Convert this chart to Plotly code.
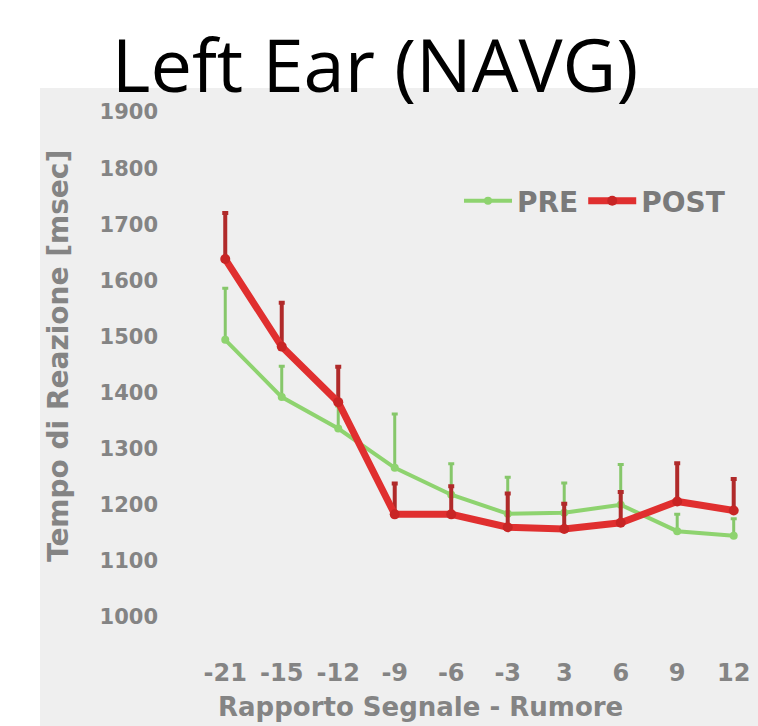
import plotly.graph_objects as go

categories = ["-21", "-15", "-12", "-9", "-6", "-3", "3", "6", "9", "12"]
pre = [1494, 1392, 1336, 1266, 1218, 1184, 1186, 1200, 1153, 1145]
post = [1638, 1482, 1383, 1183, 1183, 1160, 1157, 1168, 1206, 1190]
pre_err = [92, 55, 40, 96, 55, 65, 53, 72, 30, 30]
post_err = [82, 78, 63, 55, 50, 60, 45, 55, 68, 56]
y_ticks = [1000, 1100, 1200, 1300, 1400, 1500, 1600, 1700, 1800, 1900]

W, H = 758, 726
L, R, T, B = 197, 0, 95, 78
pw = W - L - R
ph = H - T - B

def px_x(x):
    return (x - L) / pw

def px_y(y):
    return (H - B - y) / ph

GRAY_TXT = "#848484"
BG = "#efefef"
GREEN = "#8ed36f"
RED = "#e02f2f"
FONT = "DejaVu Sans"

fig = go.Figure()
fig.add_trace(go.Scatter(
    x=categories, y=pre, name="PRE", mode="lines+markers",
    line=dict(color=GREEN, width=4),
    marker=dict(color=GREEN, size=8),
    error_y=dict(type="data", symmetric=False, array=pre_err,
                 arrayminus=[0] * len(pre_err), color="#86c76a",
                 thickness=3, width=3),
))
fig.add_trace(go.Scatter(
    x=categories, y=post, name="POST", mode="lines+markers",
    line=dict(color=RED, width=7),
    marker=dict(color="#c82525", size=10),
    error_y=dict(type="data", symmetric=False, array=post_err,
                 arrayminus=[0] * len(post_err), color="#b02a2a",
                 thickness=4, width=3),
))

fig.add_shape(type="rect", xref="paper", yref="paper",
              x0=px_x(40), x1=1.0, y0=px_y(726), y1=px_y(88),
              fillcolor=BG, line=dict(width=0), layer="below")

fig.update_layout(
    width=W, height=H,
    margin=dict(l=L, r=R, t=T, b=B),
    paper_bgcolor="white",
    plot_bgcolor=BG,
    font=dict(family=FONT, color=GRAY_TXT, size=22),
    title=dict(text="Left Ear (NAVG)", xref="container", yref="container",
               x=375 / W, xanchor="center", y=1 - 66 / H, yanchor="middle",
               font=dict(family="Open Sans", size=74, color="black")),
    showlegend=True,
    legend=dict(orientation="h", x=px_x(459), xanchor="left",
                y=px_y(201), yanchor="middle", bgcolor="rgba(0,0,0,0)",
                font=dict(family=FONT, size=28, color="#7a7a7a", weight="bold"),
                itemwidth=48, tracegroupgap=0),
    xaxis=dict(type="category", range=[-0.5, 9.43], showgrid=False,
               zeroline=False, showline=False, ticks="",
               tickfont=dict(family=FONT, size=24, color=GRAY_TXT, weight="bold"),
               ticklabelstandoff=8),
    yaxis=dict(range=[944.8, 1930.4], tickvals=y_ticks, showgrid=False,
               zeroline=False, showline=False, ticks="",
               tickfont=dict(family=FONT, size=21, color=GRAY_TXT, weight="bold"),
               ticklabelstandoff=38),
    annotations=[
        dict(text="Tempo di Reazione [msec]", xref="paper", yref="paper",
             x=px_x(58), y=px_y(356), textangle=-90, showarrow=False,
             xanchor="center", yanchor="middle",
             font=dict(family=FONT, size=28, color=GRAY_TXT, weight="bold")),
        dict(text="Rapporto Segnale - Rumore", xref="paper", yref="paper",
             x=px_x(420), y=px_y(707), showarrow=False,
             xanchor="center", yanchor="middle",
             font=dict(family=FONT, size=26, color=GRAY_TXT, weight="bold")),
    ],
)

fig.write_html("out.html")
